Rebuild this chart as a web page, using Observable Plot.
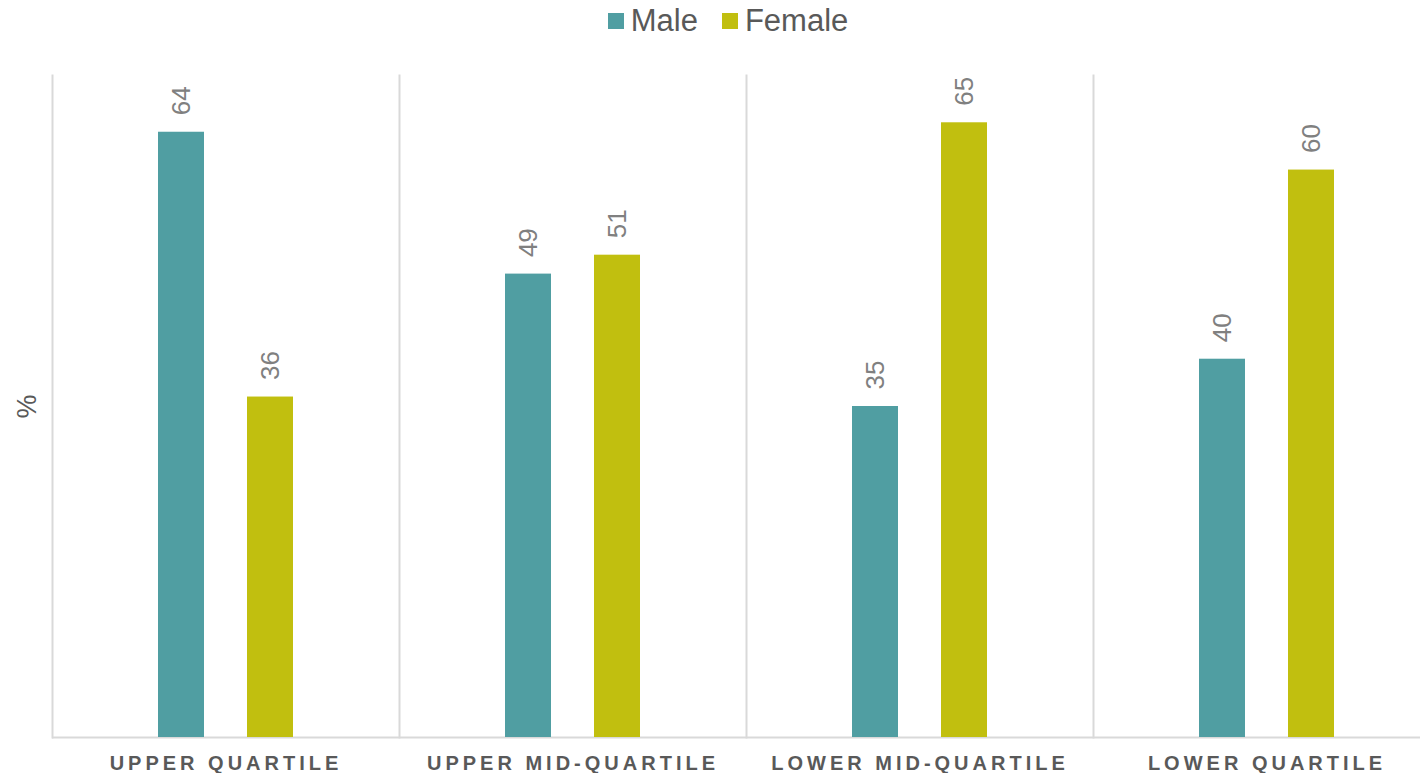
<!DOCTYPE html>
<html><head><meta charset="utf-8">
<script src="https://cdn.jsdelivr.net/npm/d3@7"></script>
<script src="https://cdn.jsdelivr.net/npm/@observablehq/plot@0.6"></script>
<style>
body{margin:0;overflow:hidden;background:#fff;font-family:"Liberation Sans",Arial,sans-serif;}
#wrap{width:1440px;}
#legend{height:42px;display:flex;justify-content:center;align-items:center;padding-left:16px;font-size:31px;color:#595959;}
#legend .item{display:flex;align-items:center;margin:0 12px;}
#legend .sw{width:16px;height:16px;margin-right:7px;}
g[aria-label="fx-axis tick label"] text{letter-spacing:4px;}
g[aria-label="y-axis label"] text{font-size:27px;}
</style></head><body>
<div id="wrap"><div id="legend"></div><div id="chart"></div></div>
<script>
const groups = ["UPPER QUARTILE","UPPER MID-QUARTILE","LOWER MID-QUARTILE","LOWER QUARTILE"];
const genders = ["Male","Female"];
const male = [64,49,35,40];
const female = [36,51,65,60];
const colors = ["#509ea2","#c1bf0f"];

const data = groups.flatMap((g,i)=>[
  {group:g, gender:"Male", value:male[i]},
  {group:g, gender:"Female", value:female[i]}
]);

const legend = document.getElementById("legend");
genders.forEach((g,i)=>{
  const it = document.createElement("div"); it.className="item";
  const sw = document.createElement("span"); sw.className="sw"; sw.style.background=colors[i];
  const t = document.createElement("span"); t.textContent=g;
  it.appendChild(sw); it.appendChild(t); legend.appendChild(it);
});

const chart = Plot.plot({
  width:1440, height:731,
  marginLeft:52, marginRight:0, marginTop:33, marginBottom:36,
  style:{fontFamily:'"Liberation Sans",Arial,sans-serif', background:"transparent"},
  fx:{domain:groups, padding:0, label:null, axis:null},
  x:{domain:genders, paddingInner:0.478, paddingOuter:1.167, axis:null},
  y:{domain:[0,70], axis:null},
  color:{domain:genders, range:colors},
  marks:[
    Plot.frame({anchor:"left", stroke:"#d9d9d9", strokeWidth:2}),
    Plot.ruleY([0], {stroke:"#d9d9d9", strokeWidth:2}),
    Plot.barY(data, {fx:"group", x:"gender", y:"value", fill:"gender"}),
    Plot.text(data, {fx:"group", x:"gender", y:"value", text:d=>String(d.value),
      rotate:-90, textAnchor:"start", lineAnchor:"middle", dy:-17, fontSize:26, fill:"#808080"}),
    Plot.axisFx({anchor:"bottom", tickSize:0, tickPadding:18, fontSize:20, fontWeight:"bold", fill:"#595959", label:null}),
    Plot.axisY({ticks:[], label:"%", labelAnchor:"center", labelArrow:false, labelOffset:36, fontSize:26, tickSize:0, fill:"#595959"})
  ]
});
document.getElementById("chart").appendChild(chart);
</script>
</body></html>
